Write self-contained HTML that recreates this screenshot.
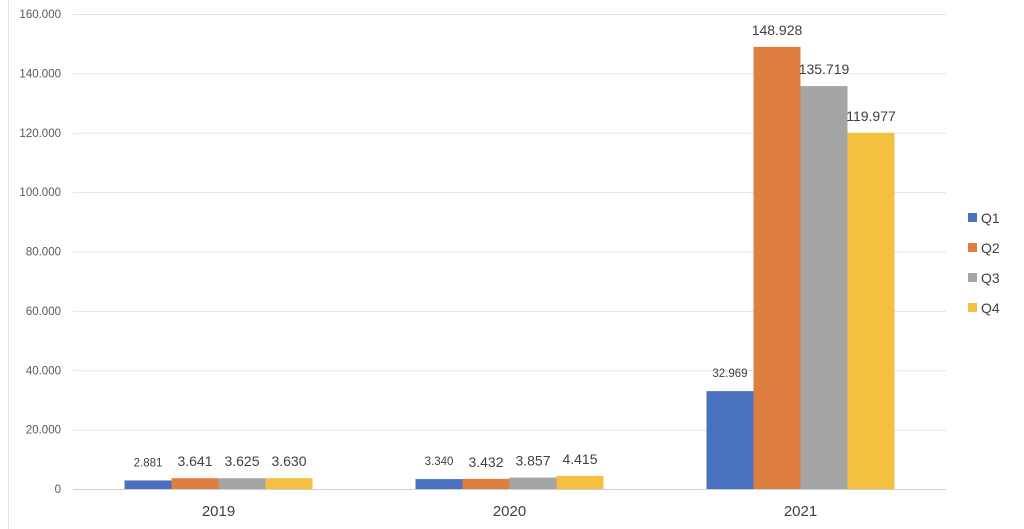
<!DOCTYPE html>
<html><head><meta charset="utf-8">
<style>html,body{margin:0;padding:0;background:#fff}svg{display:block;font-family:"Liberation Sans",sans-serif}</style>
</head><body>
<svg id="chart" width="1024" height="529">
<line x1="8.5" y1="0" x2="8.5" y2="529" stroke="#e3e3e3" stroke-width="1"/>
<g id="grid"></g><g id="bars"></g><g id="labels"></g><g id="legend"></g>
</svg>
<script>
const categories = ["2019","2020","2021"];
const seriesNames = ["Q1","Q2","Q3","Q4"];
const q1 = [2881, 3340, 32969];
const q2 = [3641, 3432, 148928];
const q3 = [3625, 3857, 135719];
const q4 = [3630, 4415, 119977];
const valueLabels = [["2.881","3.641","3.625","3.630"],["3.340","3.432","3.857","4.415"],["32.969","148.928","135.719","119.977"]];
const yTicks = [0,20000,40000,60000,80000,100000,120000,140000,160000];
const yTickLabels = ["0","20.000","40.000","60.000","80.000","100.000","120.000","140.000","160.000"];
const barColors = ["#4a70c0","#df7f3f","#a5a5a5","#f5bf40"];
const series = [q1,q2,q3,q4];
const NS="http://www.w3.org/2000/svg";
const L=73,R=946,T=14,B=489,yMax=160000;
const y=v=>B-(v/yMax)*(B-T);
const bandW=(R-L)/categories.length;
const xc=i=>L+bandW*(i+0.5);
const barW=47;
function mk(tag,attrs,parent,text){const e=document.createElementNS(NS,tag);for(const k in attrs)e.setAttribute(k,attrs[k]);if(text!==undefined)e.textContent=text;parent.appendChild(e);return e;}
const grid=document.getElementById('grid');
yTicks.forEach((t,i)=>{
  const ln=mk('line',{x1:L,x2:R,y1:y(t)+0.5,y2:y(t)+0.5,stroke:i===0?'#d0d0d0':'#e4e4e4','stroke-width':1},grid);
  
  
  const tx=mk('text',{x:L-12,y:y(t)+4,'text-anchor':'end','font-size':11.5,fill:'#595959'},grid,yTickLabels[i]);
  
  
});
categories.forEach((c,i)=>{
  const tx=mk('text',{x:xc(i),y:B+27,'text-anchor':'middle','font-size':15,fill:'#404040'},grid,c);
  
  
});
const bars=document.getElementById('bars'),labels=document.getElementById('labels');
categories.forEach((c,i)=>{
  series.forEach((s,j)=>{
    const x0=xc(i)-2*barW+j*barW;
    const r=mk('rect',{x:x0,y:y(s[i]),width:barW,height:B-y(s[i]),fill:barColors[j]},bars);
    
    
    const fs=j===0?11.5:14;
    const tx=mk('text',{x:x0+barW/2,y:y(s[i])-(j===0?14:12),'text-anchor':'middle','font-size':fs,fill:'#404040'},labels,valueLabels[i][j]);
    
    
  });
});
const lg=document.getElementById('legend');
seriesNames.forEach((n,j)=>{
  const yy=218+j*30;
  const r=mk('rect',{x:968,y:yy-5,width:9,height:9,fill:barColors[j]},lg);
  
  
  const tx=mk('text',{x:981,y:yy+5,'font-size':14,fill:'#404040'},lg,n);
  
  
});
</script>
</body></html>
